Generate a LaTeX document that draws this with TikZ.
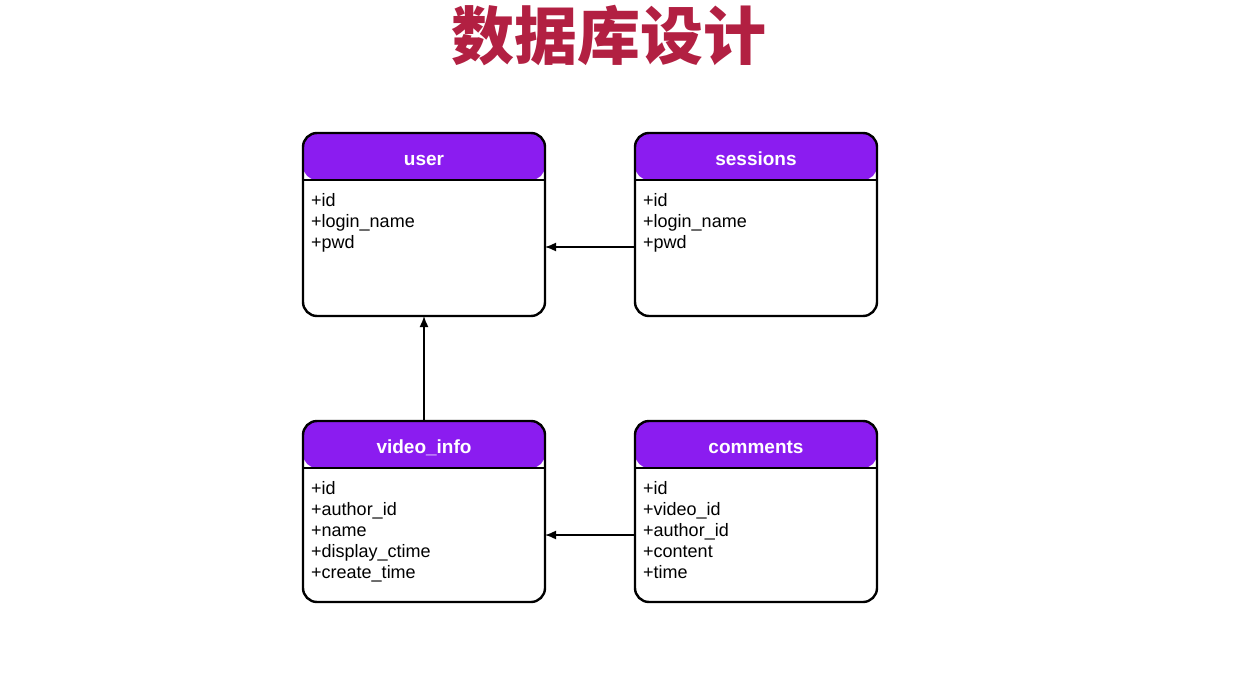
\documentclass[tikz,border=0pt]{standalone}
\usepackage{fontspec}
\setmainfont{Liberation Sans}
\newfontfamily\cjk{Noto Sans CJK SC}
\usetikzlibrary{arrows.meta}
\definecolor{hdrpurple}{RGB}{139,28,240}
\definecolor{titlered}{RGB}{178,32,66}

\begin{document}
\begin{tikzpicture}[x=1pt,y=-1pt,
	tbl/.style={draw,line width=2.4pt,rounded corners=14pt,minimum width=242pt,
		inner sep=0pt,outer sep=0pt,fill=white,
		path picture={
			\fill[hdrpurple] (path picture bounding box.north west)
				rectangle ([yshift=-47pt]path picture bounding box.north east);
			\draw[line width=2pt] ([yshift=-47pt]path picture bounding box.north west)
				-- ([yshift=-47pt]path picture bounding box.north east);}},
	hdrtxt/.style={anchor=base,text=white,font=\fontsize{19}{22}\selectfont\bfseries,inner sep=0pt},
	field/.style={anchor=base west,font=\fontsize{18}{21}\selectfont,inner sep=0pt},
	fk/.style={-{Latex[length=11pt,width=9pt]},line width=1.5pt}]
	\useasboundingbox (0,0) rectangle (1236,674);
	\node[text=titlered,font=\cjk\bfseries\fontsize{63}{68}\selectfont] (ttl) at (609,36) {数据库设计};
	%
	\node[tbl,minimum height=183pt] (user) at (424,224.5) {};
	\node[tbl,minimum height=183pt] (sessions) at (756,224.5) {};
	\node[tbl,minimum height=181pt] (video) at (424,511.5) {};
	\node[tbl,minimum height=181pt] (comments) at (756,511.5) {};
	%
	\node[hdrtxt] (user-h) at ([yshift=-32pt]user.north) {user};
	\node[hdrtxt] (sessions-h) at ([yshift=-32pt]sessions.north) {sessions};
	\node[hdrtxt] (video-h) at ([yshift=-32pt]video.north) {video\_info};
	\node[hdrtxt] (comments-h) at ([yshift=-32pt]comments.north) {comments};
	%
	\foreach \f [count=\i] in {+id,+login\_name,+pwd}{
		\node[field] (user-\i) at ([xshift=8pt,yshift={-52pt-21pt*\i}]user.north west) {\f};
		\node[field] (sessions-\i) at ([xshift=8pt,yshift={-52pt-21pt*\i}]sessions.north west) {\f};
	}
	\foreach \f [count=\i] in {+id,+author\_id,+name,+display\_ctime,+create\_time}
		\node[field] (video-\i) at ([xshift=8pt,yshift={-52pt-21pt*\i}]video.north west) {\f};
	\foreach \f [count=\i] in {+id,+video\_id,+author\_id,+content,+time}
		\node[field] (comments-\i) at ([xshift=8pt,yshift={-52pt-21pt*\i}]comments.north west) {\f};
	%
	\draw[fk] ([yshift=-22.5pt]sessions.west) -- ([yshift=-22.5pt]user.east);
	\draw[fk] (video.north) -- (user.south);
	\draw[fk] ([yshift=-23.5pt]comments.west) -- ([yshift=-23.5pt]video.east);
\end{tikzpicture}
\end{document}
